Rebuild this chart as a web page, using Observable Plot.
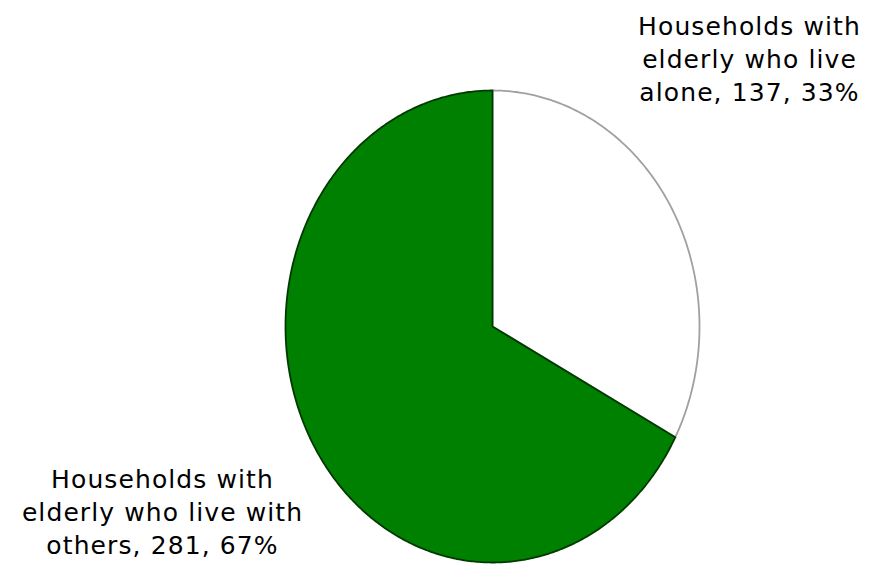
<!DOCTYPE html>
<html>
<head>
<meta charset="utf-8">
<script src="https://cdn.jsdelivr.net/npm/d3@7"></script>
<script src="https://cdn.jsdelivr.net/npm/@observablehq/plot@0.6"></script>
<style>
  html, body { margin: 0; padding: 0; background: #fff; }
  #chart svg { display: block; }
</style>
</head>
<body>
<div id="chart"></div>
<script>
const categories = ["Households with\nelderly who live\nalone", "Households with\nelderly who live with\nothers"];
const counts = [137, 281];
const fills = ["#ffffff", "#008000"];
const strokes = ["#a0a0a0", "#003a00"];

const total = d3.sum(counts);
const pct = d3.format(".0%");
const arcs = d3.pie().sort(null)(counts);

// polygon outline for each slice (center -> arc -> center), in unit-radius coordinates
function slicePoints(a) {
  const pts = [{x: 0, y: 0}];
  const n = Math.max(2, Math.ceil((a.endAngle - a.startAngle) / (Math.PI / 360)));
  for (let i = 0; i <= n; i++) {
    const t = a.startAngle + (a.endAngle - a.startAngle) * i / n;
    pts.push({x: Math.sin(t), y: Math.cos(t)});
  }
  pts.push({x: 0, y: 0});
  return pts;
}

const labelText = categories.map((c, i) => `${c}, ${counts[i]}, ${pct(counts[i] / total)}`);

const marks = arcs.map((a, i) => Plot.line(slicePoints(a), {
  x: "x", y: "y", fill: fills[i], stroke: strokes[i], strokeWidth: 1.8, curve: "linear"
}));

marks.push(Plot.text([labelText[0]], {
  text: d => d, frameAnchor: "top-right", textAnchor: "middle", lineAnchor: "top",
  dx: 50, dy: -79, fontSize: 25, lineHeight: 1.32, fill: "#000"
}));
marks.push(Plot.text([labelText[1]], {
  text: d => d, frameAnchor: "bottom-left", textAnchor: "middle", lineAnchor: "bottom",
  dx: -123, dy: -9, fontSize: 25, lineHeight: 1.32, fill: "#000"
}));

const chart = Plot.plot({
  width: 884,
  height: 570,
  marginLeft: 285,
  marginRight: 185,
  marginTop: 90,
  marginBottom: 8,
  x: {domain: [-1, 1], axis: null},
  y: {domain: [-1, 1], axis: null},
  style: {fontFamily: "'DejaVu Sans', Verdana, sans-serif", letterSpacing: "1.1px", background: "#fff", overflow: "visible"},
  marks
});
document.getElementById("chart").appendChild(chart);
</script>
</body>
</html>
